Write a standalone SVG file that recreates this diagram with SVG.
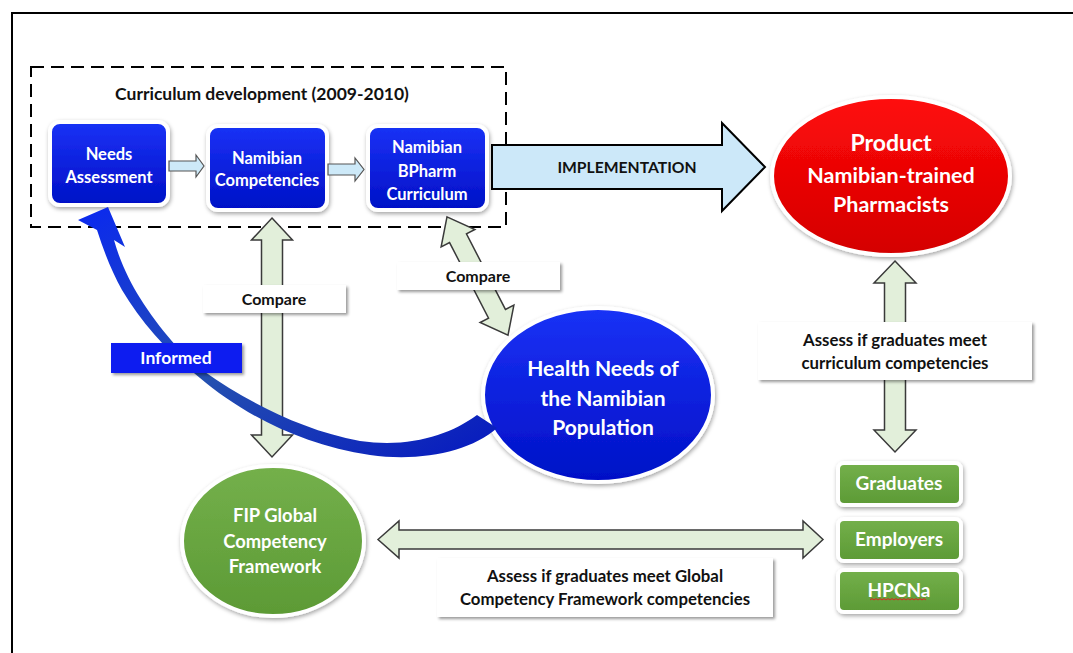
<svg xmlns="http://www.w3.org/2000/svg" width="1073" height="653" viewBox="0 0 1073 653">
<defs>
<style>
text{font-family:Lato,"Liberation Sans",sans-serif;font-weight:bold;text-anchor:middle}
.w{fill:#ffffff}
.k{fill:#111111}
.bbox{fill:url(#gBlue);stroke:#ffffff;stroke-width:4;filter:url(#sh)}
.gbox{fill:url(#gGreen);stroke:#ffffff;stroke-width:4;filter:url(#sh)}
.lbl{fill:#ffffff;filter:url(#lsh)}
.dbl{fill:#e2efda;stroke:#3a3a3a;stroke-width:1.5;stroke-linejoin:miter}
.sm{fill:#cde9f8;stroke:#555555;stroke-width:1.2}
</style>
<linearGradient id="gBlue" x1="0" y1="0" x2="0" y2="1"><stop offset="0" stop-color="#1a32f6"/><stop offset="1" stop-color="#0010c6"/></linearGradient>
<linearGradient id="gRed" x1="0" y1="0" x2="0" y2="1"><stop offset="0" stop-color="#ff0a0a"/><stop offset="1" stop-color="#d40000"/></linearGradient>
<linearGradient id="gGreen" x1="0" y1="0" x2="0" y2="1"><stop offset="0" stop-color="#74b04b"/><stop offset="1" stop-color="#5c9a35"/></linearGradient>
<linearGradient id="gCurve" x1="0" y1="0" x2="1" y2="1"><stop offset="0" stop-color="#0a28f0"/><stop offset="0.5" stop-color="#2450b0"/><stop offset="1" stop-color="#0618c0"/></linearGradient>
<filter id="sh" x="-20%" y="-20%" width="140%" height="140%"><feDropShadow dx="1" dy="2" stdDeviation="2" flood-color="#000" flood-opacity="0.35"/></filter>
<filter id="lsh" x="-10%" y="-20%" width="120%" height="150%"><feDropShadow dx="2" dy="2" stdDeviation="1.5" flood-color="#000" flood-opacity="0.4"/></filter>
</defs>
<rect x="0" y="0" width="1073" height="653" fill="#ffffff"/>
<path d="M12,653 V13 H1073" fill="none" stroke="#000" stroke-width="2"/>

<g id="curriculum-development">
<rect x="31" y="67" width="475" height="160" fill="none" stroke="#000" stroke-width="2" stroke-dasharray="13,7"/>
<text x="262" y="100" class="k" font-size="17.5">Curriculum development (2009-2010)</text>
</g>

<g id="needs-assessment">
<rect x="50" y="122" width="118" height="83" rx="10" class="bbox"/>
<text x="109" y="160" class="w" font-size="16.5">Needs</text>
<text x="109" y="183" class="w" font-size="16.5">Assessment</text>
</g>
<g id="namibian-competencies">
<rect x="208" y="126" width="119" height="84" rx="10" class="bbox"/>
<text x="267" y="164" class="w" font-size="16.5">Namibian</text>
<text x="267" y="186" class="w" font-size="16.5">Competencies</text>
</g>
<g id="bpharm-curriculum">
<rect x="368" y="126" width="119" height="84" rx="10" class="bbox"/>
<text x="427" y="153" class="w" font-size="16.5">Namibian</text>
<text x="427" y="177" class="w" font-size="16.5">BPharm</text>
<text x="427" y="200" class="w" font-size="16.5">Curriculum</text>
</g>
<g id="product">
<ellipse cx="891" cy="176" rx="119" ry="79" fill="url(#gRed)" stroke="#fff" stroke-width="4" filter="url(#sh)"/>
<text x="891" y="151" class="w" font-size="23">Product</text>
<text x="891" y="183" class="w" font-size="21.5">Namibian-trained</text>
<text x="891" y="212" class="w" font-size="21.5">Pharmacists</text>
</g>
<g id="health-needs">
<ellipse cx="598" cy="395" rx="115" ry="87" fill="url(#gBlue)" stroke="#fff" stroke-width="4" filter="url(#sh)"/>
<text x="603" y="376" class="w" font-size="21">Health Needs of</text>
<text x="603" y="406" class="w" font-size="21">the Namibian</text>
<text x="603" y="435" class="w" font-size="21">Population</text>
</g>
<g id="fip-framework">
<ellipse cx="273" cy="541" rx="91" ry="75" fill="url(#gGreen)" stroke="#fff" stroke-width="4" filter="url(#sh)"/>
<text x="275" y="522" class="w" font-size="18.4">FIP Global</text>
<text x="275" y="548" class="w" font-size="18.4">Competency</text>
<text x="275" y="573" class="w" font-size="18.4">Framework</text>
</g>
<g id="graduates">
<rect x="838" y="463" width="123" height="42" rx="6" class="gbox"/>
<text x="899" y="490" class="w" font-size="19">Graduates</text>
</g>
<g id="employers">
<rect x="838" y="519" width="123" height="42" rx="6" class="gbox"/>
<text x="899" y="546" class="w" font-size="19">Employers</text>
</g>
<g id="hpcna">
<rect x="838" y="570" width="123" height="42" rx="6" class="gbox"/>
<text x="899" y="597" class="w" font-size="19">HPCNa</text>
<path d="M870,600 l2,-1.5 l2,1.5 l2,-1.5 l2,1.5 l2,-1.5 l2,1.5 l2,-1.5 l2,1.5 l2,-1.5 l2,1.5 l2,-1.5 l2,1.5 l2,-1.5 l2,1.5 l2,-1.5 l2,1.5 l2,-1.5 l2,1.5 l2,-1.5 l2,1.5 l2,-1.5 l2,1.5 l2,-1.5 l2,1.5 l2,-1.5 l2,1.5 l2,-1.5 l2,1.5" fill="none" stroke="#e02020" stroke-width="1"/>
</g>

<g id="connectors">
<polygon class="sm" points="169,161 196,161 196,155 204,166 196,177 196,171 169,171"/>
<polygon class="sm" points="328,164 355,164 355,158 364,169.5 355,181 355,175 328,175"/>
<polygon points="492,145 722,145 722,123 765,167 722,211 722,189 492,189" fill="#cce8f9" stroke="#000" stroke-width="2"/>
<text x="627" y="173" class="k" font-size="15.7">IMPLEMENTATION</text>
<polygon class="dbl" points="272,218 292.5,240 282.5,240 282.5,435 292.5,435 272,457 251.5,435 261.5,435 261.5,240 251.5,240"/>
<polygon class="dbl" transform="translate(477.5,276) rotate(62.7)" points="-66.5,0 -42.5,-19 -42.5,-9.5 42.5,-9.5 42.5,-19 66.5,0 42.5,19 42.5,9.5 -42.5,9.5 -42.5,19"/>
<polygon class="dbl" points="895,261 916,283 905.5,283 905.5,430 916,430 895,452 874,430 884.5,430 884.5,283 874,283"/>
<polygon class="dbl" points="378,539.5 399,521 399,530 803,530 803,521 823,539.5 803,558 803,549 399,549 399,558"/>
<path d="M497,428 C470,452 420,462 370,455 C300,445 240,412 200,378 C165,350 140,320 122,290 C112,272 104,252 97,230 L78,220 L108,207 L125,247 L114,240 C120,262 130,282 140,298 C160,330 185,358 205,372 C245,400 300,430 360,441 C410,448 450,435 477,415 Z" fill="url(#gCurve)"/>
</g>

<g id="label-compare-1">
<rect x="203" y="285" width="143" height="28" class="lbl"/>
<text x="274" y="305" class="k" font-size="16">Compare</text>
</g>
<g id="label-compare-2">
<rect x="397" y="262" width="163" height="28" class="lbl"/>
<text x="478" y="282" class="k" font-size="16">Compare</text>
</g>
<g id="label-informed">
<rect x="111" y="343" width="131" height="30" fill="#0a1ef0" filter="url(#lsh)"/>
<text x="176" y="364" class="w" font-size="17.5">Informed</text>
</g>
<g id="label-assess-curriculum">
<rect x="758" y="322" width="274" height="58" class="lbl"/>
<text x="895" y="346" class="k" font-size="16.8">Assess if graduates meet</text>
<text x="895" y="369" class="k" font-size="16.8">curriculum competencies</text>
</g>
<g id="label-assess-global">
<rect x="437" y="558" width="336" height="59" class="lbl"/>
<text x="605" y="582" class="k" font-size="16.8">Assess if graduates meet Global</text>
<text x="605" y="605" class="k" font-size="16.8">Competency Framework competencies</text>
</g>
</svg>
